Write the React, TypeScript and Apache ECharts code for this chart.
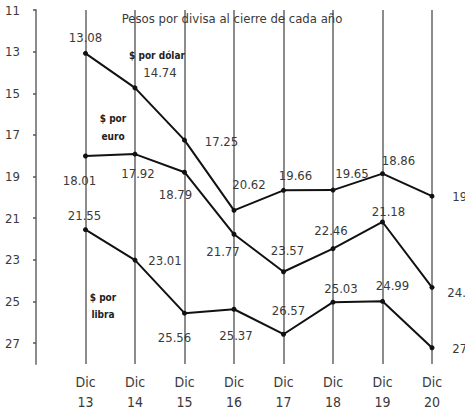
import React, { useEffect, useRef } from "react";
import * as echarts from "echarts";

const years = ["13", "14", "15", "16", "17", "18", "19", "20"];
const categories = ["", ...years.map((y) => "Dic\n" + y)];
const dolar = [13.08, 14.74, 17.25, 20.62, 19.66, 19.65, 18.86, 19.94];
const euro = [18.01, 17.92, 18.79, 21.77, 23.57, 22.46, 21.18, 24.32];
const libra = [21.55, 23.01, 25.56, 25.37, 26.57, 25.03, 24.99, 27.22];
const yTicks = [11, 13, 15, 17, 19, 21, 23, 25, 27];

// label offsets (px) relative to each point
const dolarOffsets = [[0, -16], [25, -15], [37, 1], [15, -26], [12, -15], [19, -17], [16, -13], [37, 0]];
const euroOffsets = [[-6, 25], [3, 19], [-9, 22], [-11, 17], [4, -21], [-2, -18], [6, -10], [32, 5]];
const libraOffsets = [[-1, -14], [30, 0], [-10, 24], [2, 26], [5, -24], [8, -14], [10, -16], [37, 1]];

const FONT = "'DejaVu Sans Condensed', 'DejaVu Sans', sans-serif";
const TEXT = "#3a3a3a";

function makeSeries(name: string, values: number[], offsets: number[][]) {
  return {
    name,
    type: "line",
    data: [null, ...values.map((v, i) => ({
      value: v,
      label: { offset: offsets[i] },
    }))],
    symbol: "circle",
    symbolSize: 5,
    lineStyle: { color: "#111", width: 2 },
    itemStyle: { color: "#111" },
    label: {
      show: true,
      position: "inside",
      color: TEXT,
      fontFamily: FONT,
      fontSize: 13,
      formatter: (p: any) => p.value.toFixed(2),
    },
    connectNulls: false,
    z: 3,
  };
}

export default function App() {
  const ref = useRef<HTMLDivElement>(null);
  useEffect(() => {
    if (!ref.current) return;
    const chart = echarts.init(ref.current, null, { renderer: "svg" });
    chart.setOption({
      animation: false,
      backgroundColor: "#fff",
      grid: { left: 36, top: 10, right: 33, bottom: 47.5, containLabel: false },
      xAxis: {
        type: "category",
        data: categories,
        boundaryGap: false,
        axisLine: { show: false },
        axisTick: { show: false },
        axisLabel: {
          color: TEXT,
          fontFamily: FONT,
          fontSize: 14,
          lineHeight: 20,
          margin: 8,
          interval: 0,
        },
        splitLine: { show: true, lineStyle: { color: "#8c8c8c", width: 2 } },
      },
      yAxis: {
        type: "value",
        inverse: true,
        min: 11,
        max: 28,
        interval: 2,
        axisLine: { show: true, lineStyle: { color: "#8c8c8c", width: 2 } },
        axisTick: { show: true, length: 3, customValues: yTicks, lineStyle: { color: "#555", width: 1.5 } },
        axisLabel: {
          customValues: yTicks,
          color: TEXT,
          fontFamily: FONT,
          fontSize: 13,
          margin: 16,
        },
        splitLine: { show: false },
      },
      series: [
        makeSeries("$ por dólar", dolar, dolarOffsets),
        makeSeries("$ por euro", euro, euroOffsets),
        makeSeries("$ por libra", libra, libraOffsets),
      ],
      graphic: [
        {
          type: "text",
          x: 232,
          y: 18,
          style: {
            text: "Pesos por divisa al cierre de cada año",
            fill: TEXT,
            font: `13px ${FONT}`,
            textAlign: "center",
            textVerticalAlign: "middle",
          },
          z: 10,
        },
        {
          type: "text",
          x: 157,
          y: 55,
          style: {
            text: "$ por dólar",
            fill: "#222",
            font: `bold 10px ${FONT}`,
            textAlign: "center",
            textVerticalAlign: "middle",
          },
          z: 10,
        },
        {
          type: "text",
          x: 113,
          y: 127,
          style: {
            text: "$ por\neuro",
            fill: "#222",
            font: `bold 10px ${FONT}`,
            lineHeight: 18,
            textAlign: "center",
            textVerticalAlign: "middle",
          },
          z: 10,
        },
        {
          type: "text",
          x: 103,
          y: 306,
          style: {
            text: "$ por\nlibra",
            fill: "#222",
            font: `bold 10px ${FONT}`,
            lineHeight: 17,
            textAlign: "center",
            textVerticalAlign: "middle",
          },
          z: 10,
        },
      ],
    });
    return () => chart.dispose();
  }, []);
  return <div ref={ref} style={{ width: 465, height: 412, position: "absolute", left: 0, top: 0 }} />;
}
